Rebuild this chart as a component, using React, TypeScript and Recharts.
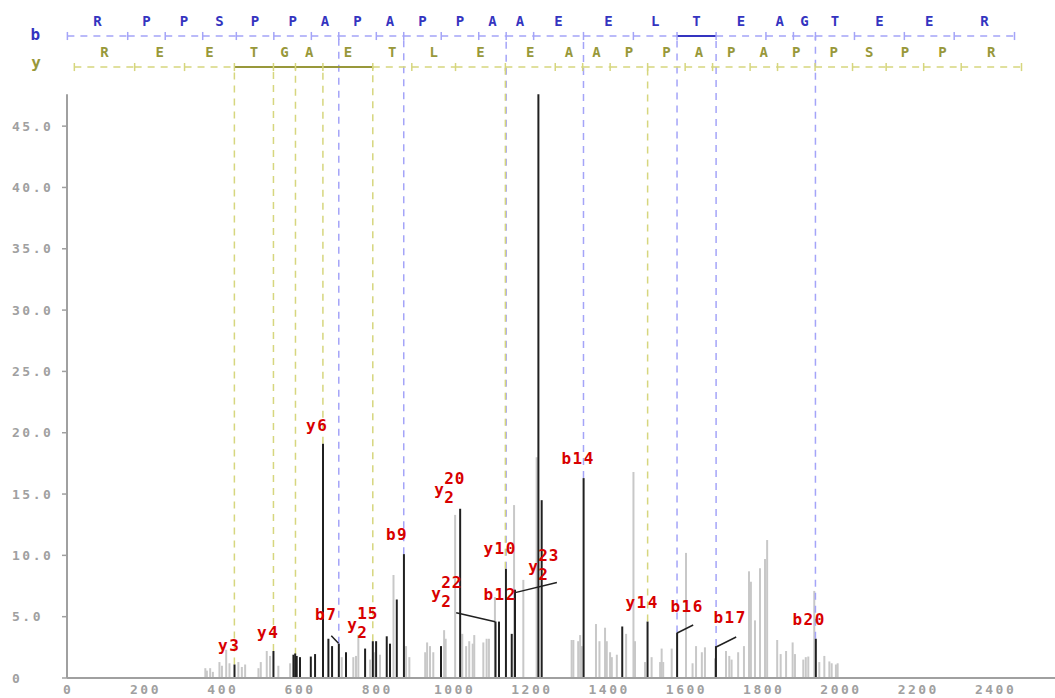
import React from "react";
import { ComposedChart, XAxis, YAxis, Scatter, ReferenceLine, ReferenceDot } from "recharts";

// peptide and fragment ladders (m/z)
const sequence = ["R", "P", "P", "S", "P", "P", "A", "P", "A", "P", "P", "A", "A", "E", "E", "L", "T", "E", "A", "G", "T", "E", "E", "R"];
const bLadder = [1.0, 157.1, 254.2, 351.2, 438.2, 535.3, 632.4, 703.4, 800.5, 871.5, 968.5, 1065.6, 1136.6, 1207.7, 1336.7, 1465.8, 1578.8, 1679.9, 1808.9, 1880.0, 1937.0, 2038.0, 2167.1, 2296.1, 2452.2];
const yLadder = [19.0, 175.1, 304.2, 433.2, 534.3, 591.3, 662.3, 791.4, 892.4, 1005.5, 1134.5, 1263.6, 1334.6, 1405.7, 1502.7, 1599.8, 1670.8, 1767.9, 1838.9, 1936.0, 2033.0, 2120.0, 2217.1, 2314.2, 2470.3];

const bMatched = [7, 9, 12, 14, 16, 17, 20];
const bMatchHeights = [2.8, 10.1, 8.9, 16.3, 3.7, 2.6, 3.2];
const yMatched = [3, 4, 5, 6, 7, 10, 14];
const yMatchHeights = [1.1, 2.2, 1.9, 19.1, 3.0, 8.9, 4.6];

// matched (black) peaks
const matchedMz = [433.5, 534.3, 586, 590.5, 594.5, 603, 631, 642, 662.5, 676.5, 686, 703.5, 722, 771.5, 791.5, 800, 827.5, 836, 853.5, 872, 968, 1017.5, 1109, 1118, 1136, 1151, 1159.5, 1220, 1228.5, 1337, 1437, 1502.5, 1579, 1679.5, 1938];
const matchedInt = [1.1, 2.2, 1.9, 2.0, 1.8, 1.7, 1.75, 1.95, 19.1, 3.2, 2.6, 2.8, 2.1, 2.4, 3.0, 3.0, 3.4, 2.8, 6.4, 10.1, 2.6, 13.8, 4.6, 4.6, 8.9, 3.6, 7.2, 47.6, 14.5, 16.3, 4.2, 4.6, 3.7, 2.6, 3.2];

// unmatched (grey) peaks
const otherMz = [358, 362, 370.5, 377.5, 394.5, 401, 412, 420.5, 443.5, 452.5, 461, 495.5, 501.5, 517, 525.5, 547, 577.5, 711, 741, 748, 754, 784.5, 795.5, 810, 845, 877.5, 886, 927, 932, 939.5, 948, 976, 980, 1004.5, 1023, 1033, 1041, 1050, 1054, 1077.5, 1086, 1092, 1107.5, 1157, 1181, 1215.5, 1306, 1310.5, 1323, 1328, 1332, 1369, 1378, 1392.5, 1397, 1405.5, 1410, 1423, 1447, 1466, 1470, 1496, 1513, 1535, 1539, 1543, 1565, 1602, 1619, 1628, 1643, 1651, 1677, 1705.5, 1714, 1720, 1737, 1752, 1765, 1770, 1780.5, 1793.5, 1806.5, 1812, 1838, 1847, 1861, 1878, 1884, 1905.5, 1912, 1918.5, 1934, 1947, 1960, 1973, 1979, 1990, 1994.5];
const otherInt = [0.8, 0.6, 0.8, 0.5, 1.3, 1.0, 2.3, 1.2, 1.3, 0.9, 1.1, 0.8, 1.3, 2.2, 1.8, 1.0, 1.2, 1.7, 1.7, 1.8, 3.5, 1.5, 2.1, 1.9, 8.4, 2.6, 1.7, 2.1, 2.9, 2.6, 2.1, 3.9, 3.2, 13.3, 3.6, 2.6, 3.0, 2.8, 3.5, 2.9, 3.2, 3.2, 6.6, 14.1, 8.0, 18.0, 3.1, 3.1, 3.0, 3.5, 2.6, 4.4, 3.0, 4.1, 3.0, 2.1, 1.7, 1.9, 3.6, 16.8, 3.0, 1.3, 1.7, 1.3, 2.4, 1.3, 2.4, 10.2, 1.2, 2.6, 2.1, 2.5, 1.6, 2.2, 1.8, 1.5, 2.1, 2.6, 8.7, 7.85, 4.7, 8.95, 9.7, 11.25, 3.1, 1.95, 2.2, 2.9, 1.95, 1.5, 1.7, 1.75, 7.1, 1.3, 1.8, 1.35, 1.2, 1.1, 1.2];

// ion labels
const labelText = ["y3", "y4", "y6", "b7", "b9", "y10", "b12", "b14", "y14", "b16", "b17", "b20"];
const labelMz = [419.8, 520.7, 647.5, 670.8, 854.4, 1121.1, 1121.1, 1323, 1488.6, 1605.1, 1716.4, 1920.8];
const labelInt = [2.61, 3.75, 20.63, 5.14, 11.74, 10.52, 6.77, 17.86, 6.12, 5.87, 4.97, 4.73];

const chargedNum = ["15", "20", "22", "23"];
const chargedMz = [725, 950.3, 942.5, 1193.6];
const chargedInt = [4.4, 15.33, 6.85, 9.13];

// leader lines [mz1, int1, mz2, int2]
const leaderLines = [
  [684.0, 3.45, 702.6, 2.83],
  [1007.3, 5.32, 1108.2, 4.59],
  [1159.9, 6.96, 1267.9, 7.79],
  [1579.2, 3.67, 1620.6, 4.32],
  [1680.1, 2.53, 1731.9, 3.34],
];

const xTicks = [0, 200, 400, 600, 800, 1000, 1200, 1400, 1600, 1800, 2000, 2200, 2400];
const yTicks = [0, 5, 10, 15, 20, 25, 30, 35, 40, 45];

const X_MAX = 2557;
const Y_MAX = 55;
const Y_AXIS_TOP = 47.6;
const B_ROW = 52.35;
const B_TEXT = 53.55;
const Y_ROW = 49.82;
const Y_TEXT = 51.04;
const TICK_HALF = 0.33;

const MONO = "'DejaVu Sans Mono', monospace";
const AXIS = "#a0a0a0";
const RED = "#d80000";
const B_DARK = "#3434c0";
const B_LIGHT = "#a4a4f8";
const Y_DARK = "#98983a";
const Y_LIGHT = "#d6d67e";

const letterPoints = [
  ...sequence.map((aa, i) => ({ x: (bLadder[i] + bLadder[i + 1]) / 2, y: B_TEXT, text: aa, color: B_DARK })),
  ...sequence
    .slice()
    .reverse()
    .map((aa, i) => ({ x: (yLadder[i] + yLadder[i + 1]) / 2, y: Y_TEXT, text: aa, color: Y_DARK })),
];

const labelPoints = labelText.map((t, i) => ({ x: labelMz[i], y: labelInt[i], text: t }));
const chargedPoints = chargedNum.map((n, i) => ({ x: chargedMz[i], y: chargedInt[i], text: n }));
const peakPoints = [
  ...matchedMz.map((m, i) => ({ x: m, y: matchedInt[i] })),
  ...otherMz.map((m, i) => ({ x: m, y: otherInt[i] })),
];

const LetterShape = (p: any) => (
  <text x={p.cx} y={p.cy} textAnchor="middle" dominantBaseline="central" fill={p.payload.color}
    fontFamily={MONO} fontWeight="bold" fontSize={14}>
    {p.payload.text}
  </text>
);

const LabelShape = (p: any) => (
  <text x={p.cx} y={p.cy} textAnchor="middle" dominantBaseline="central" fill={RED}
    fontFamily={MONO} fontWeight="bold" fontSize={16} letterSpacing={1.5}>
    {p.payload.text}
  </text>
);

const ChargedShape = (p: any) => (
  <g fill={RED} fontFamily={MONO} fontWeight="bold" fontSize={16}>
    <text x={p.cx} y={p.cy} dominantBaseline="central">y</text>
    <text x={p.cx + 10} y={p.cy + 8} dominantBaseline="central">2</text>
    <text x={p.cx + 10} y={p.cy - 11} dominantBaseline="central" letterSpacing={1}>{p.payload.text}</text>
  </g>
);

const YTick = (p: any) => (
  <text x={12} y={p.y} dominantBaseline="central" fill="#a0a0a0" fontFamily={MONO}
    fontWeight="bold" fontSize={13} letterSpacing={2.5}>
    {p.payload.value === 0 ? "0" : p.payload.value.toFixed(1)}
  </text>
);

const XTick = (p: any) => (
  <text x={p.x + 1.25} y={p.y + 9} textAnchor="middle" dominantBaseline="central" fill="#a0a0a0"
    fontFamily={MONO} fontWeight="bold" fontSize={13} letterSpacing={2.5}>
    {p.payload.value}
  </text>
);

const ladderRow = (ladder: number[], matched: number[], row: number, dark: string, light: string, key: string) => {
  const out: React.ReactNode[] = [];
  for (let i = 0; i < ladder.length - 1; i++) {
    const solid = matched.includes(i) && matched.includes(i + 1);
    out.push(
      <ReferenceLine key={`${key}s${i}`} segment={[{ x: ladder[i], y: row }, { x: ladder[i + 1], y: row }]}
        stroke={solid ? dark : light} strokeWidth={solid ? 2 : 1.5}
        strokeDasharray={solid ? undefined : "7 6"} ifOverflow="visible" />
    );
  }
  ladder.forEach((m, i) =>
    out.push(
      <ReferenceLine key={`${key}t${i}`} segment={[{ x: m, y: row - TICK_HALF }, { x: m, y: row + TICK_HALF }]}
        stroke={light} strokeWidth={1.5} ifOverflow="visible" />
    )
  );
  return out;
};

export default function App() {
  return (
    <div style={{ position: "absolute", left: 0, top: 0, width: 1055, height: 698, background: "#fff" }}>
      <ComposedChart width={1055} height={698} margin={{ top: 3.5, right: 0, bottom: 0, left: 0 }}>
        <XAxis type="number" dataKey="x" domain={[0, X_MAX]} ticks={xTicks} height={20}
          axisLine={{ stroke: AXIS, strokeWidth: 2 }} tickLine={false} tickSize={0} tick={<XTick />} />
        <YAxis type="number" dataKey="y" domain={[0, Y_MAX]} ticks={yTicks} width={67}
          axisLine={false} tickLine={{ stroke: AXIS, strokeWidth: 1.5 }} tickSize={5} tick={<YTick />} />

        <ReferenceLine segment={[{ x: 0, y: 0 }, { x: 0, y: Y_AXIS_TOP }]} stroke={AXIS} strokeWidth={2} ifOverflow="visible" />

        {otherMz.map((m, i) => (
          <ReferenceLine key={`o${i}`} segment={[{ x: m, y: 0 }, { x: m, y: otherInt[i] }]} stroke="#c8c8c8" strokeWidth={2} />
        ))}

        {bMatched.map((ion, k) => (
          <ReferenceLine key={`bg${k}`} segment={[{ x: bLadder[ion], y: bMatchHeights[k] }, { x: bLadder[ion], y: B_ROW }]}
            stroke={B_LIGHT} strokeWidth={1.5} strokeDasharray="7 6" ifOverflow="visible" />
        ))}
        {yMatched.map((ion, k) => (
          <ReferenceLine key={`yg${k}`} segment={[{ x: yLadder[ion], y: yMatchHeights[k] }, { x: yLadder[ion], y: Y_ROW }]}
            stroke={Y_LIGHT} strokeWidth={1.5} strokeDasharray="7 6" ifOverflow="visible" />
        ))}

        {matchedMz.map((m, i) => (
          <ReferenceLine key={`m${i}`} segment={[{ x: m, y: 0 }, { x: m, y: matchedInt[i] }]} stroke="#202020" strokeWidth={2} />
        ))}

        {leaderLines.map((l, i) => (
          <ReferenceLine key={`l${i}`} segment={[{ x: l[0], y: l[1] }, { x: l[2], y: l[3] }]} stroke="#202020" strokeWidth={1.5} ifOverflow="visible" />
        ))}

        {ladderRow(bLadder, bMatched, B_ROW, B_DARK, B_LIGHT, "b")}
        {ladderRow(yLadder, yMatched, Y_ROW, Y_DARK, Y_LIGHT, "y")}

        <ReferenceDot x={-82} y={B_ROW + 0.1} r={0} ifOverflow="visible"
          shape={(p: any) => (
            <text x={p.cx} y={p.cy} textAnchor="middle" dominantBaseline="central" fill={B_DARK}
              fontFamily={MONO} fontWeight="bold" fontSize={16}>b</text>
          )} />
        <ReferenceDot x={-80} y={Y_ROW + 0.4} r={0} ifOverflow="visible"
          shape={(p: any) => (
            <text x={p.cx} y={p.cy} textAnchor="middle" dominantBaseline="central" fill={Y_DARK}
              fontFamily={MONO} fontWeight="bold" fontSize={16}>y</text>
          )} />

        <Scatter data={peakPoints} dataKey="y" isAnimationActive={false} shape={() => <g />} />
        <Scatter data={letterPoints} dataKey="y" isAnimationActive={false} shape={LetterShape} />
        <Scatter data={labelPoints} dataKey="y" isAnimationActive={false} shape={LabelShape} />
        <Scatter data={chargedPoints} dataKey="y" isAnimationActive={false} shape={ChargedShape} />
      </ComposedChart>
    </div>
  );
}
